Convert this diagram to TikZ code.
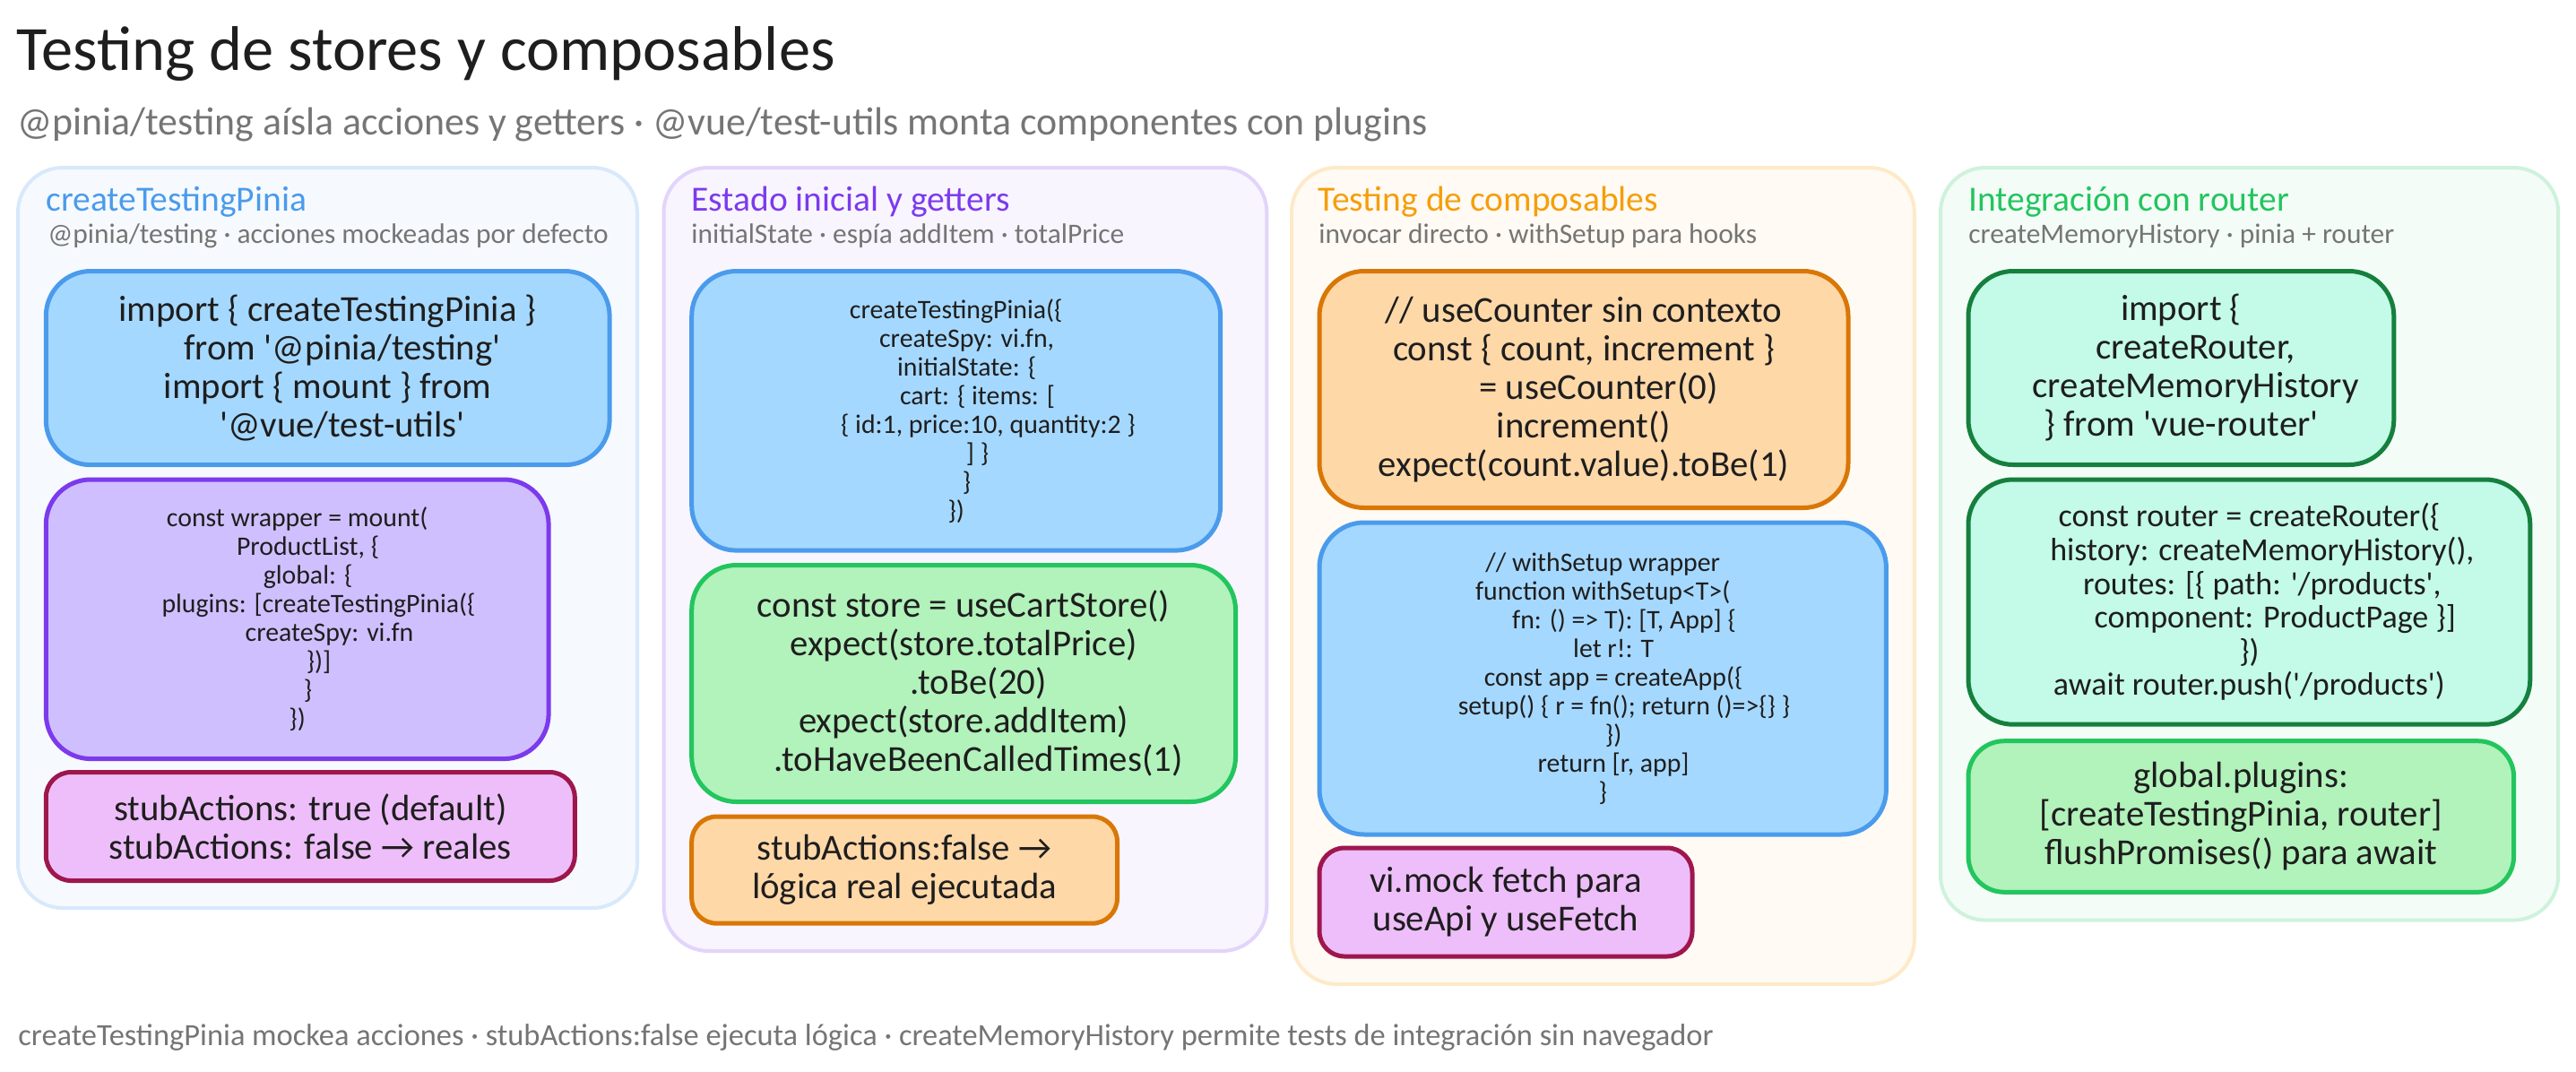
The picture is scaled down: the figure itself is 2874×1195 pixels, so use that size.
\documentclass[tikz,border=0pt]{standalone}
\usepackage{fontspec}
\setmainfont{Carlito}
\newcommand{\lvl}[1]{\hspace*{\dimexpr#1em*8/10\relax}}
\newcommand{\sq}{\textquotesingle}
\definecolor{inkcolor}{HTML}{1E1E1E}
\definecolor{mutedcolor}{HTML}{757575}
\definecolor{blueline}{HTML}{4A9BEC}
\definecolor{bluefill}{HTML}{A5D8FF}
\definecolor{purpleline}{HTML}{7C3AED}
\definecolor{purplefill}{HTML}{D0BFFF}
\definecolor{pinkline}{HTML}{9D174D}
\definecolor{pinkfill}{HTML}{EEBEFA}
\definecolor{greenline}{HTML}{22C55E}
\definecolor{greenfill}{HTML}{B2F2BB}
\definecolor{orangeline}{HTML}{D97706}
\definecolor{orangefill}{HTML}{FFD8A8}
\definecolor{tealline}{HTML}{15803D}
\definecolor{tealfill}{HTML}{C3FAE8}
\definecolor{amberline}{HTML}{F59E0B}
\tikzset{
	bigtext/.style = {font = \fontsize{20.4}{21.5}\selectfont},
	midtext/.style = {font = \fontsize{18}{18.8}\selectfont},
	smalltext/.style = {font = \fontsize{14.9}{16}\selectfont},
	textrow/.style = {anchor = west, inner sep = 0pt},
	panel/.style = {anchor = north west, draw = #1!22!white, fill = #1!5!white, line width = 2pt, rounded corners = 25pt, inner sep = 0pt, outer sep = 0pt},
	card/.style = {anchor = north west, draw = #1line, fill = #1fill, line width = 2.5pt, rounded corners = 25pt, inner sep = 0pt, outer sep = 0pt, align = center, text = inkcolor},
	shortcard/.style = {card = #1, rounded corners = 14pt},
	paneltitle/.style = {textrow, font = \fontsize{19.75}{22}\selectfont, text = #1},
	panelnote/.style = {textrow, font = \fontsize{15.7}{18}\selectfont, text = mutedcolor}
}
\begin{document}
\begin{tikzpicture}[x = 0.5pt, y = -0.5pt]
	\useasboundingbox (0, 0) rectangle (2874, 1195);
	\node[textrow, font = \fontsize{35.2}{40}\selectfont, text = inkcolor] (title) at (18, 60) {Testing de stores y composables};
	\node[textrow, font = \fontsize{21.9}{26}\selectfont, text = mutedcolor] (subtitle) at (19, 139) {@pinia/testing aísla acciones y getters · @vue/test-utils monta componentes con plugins};
%%%%%%%%%%%
	\node[panel = blueline, minimum width = 345.5pt, minimum height = 413pt] (pinia) at (20, 187) {};
	\node[paneltitle = blueline] (piniatitle) at (51, 225) {createTestingPinia};
	\node[panelnote] (pinianote) at (53, 263) {@pinia/testing · acciones mockeadas por defecto};
	\node[card = blue, bigtext, minimum width = 314.4pt, minimum height = 108.1pt] (piniaimport) at (51.3, 302.5) {import \{ createTestingPinia \}\\ \lvl{1}from \sq @pinia/testing\sq\\ import \{ mount \} from\\ \lvl{1}\sq @vue/test-utils\sq};
	\node[card = purple, smalltext, minimum width = 280.4pt, minimum height = 155.8pt] (piniamount) at (51.3, 535) {const wrapper = mount(\\ \lvl{1}ProductList, \{\\ \lvl{1}global: \{\\ \lvl{2}plugins: [createTestingPinia(\{\\ \lvl{3}createSpy: vi.fn\\ \lvl{2}\})]\\ \lvl{1}\}\\ \})};
	\node[shortcard = pink, bigtext, minimum width = 295pt, minimum height = 60.5pt] (piniastub) at (51.3, 861.5) {stubActions: true (default)\\ stubActions: false → reales};
%%%%%%%%%%%
	\node[panel = purpleline, minimum width = 336.4pt, minimum height = 437pt] (getters) at (740.5, 187) {};
	\node[paneltitle = purpleline] (getterstitle) at (771, 225) {Estado inicial y getters};
	\node[panelnote] (gettersnote) at (771, 263) {initialState · espía addItem · totalPrice};
	\node[card = blue, smalltext, minimum width = 295pt, minimum height = 155.8pt] (gettersinit) at (771.7, 302.5) {createTestingPinia(\{\\ \lvl{1}createSpy: vi.fn,\\ \lvl{1}initialState: \{\\ \lvl{2}cart: \{ items: [\\ \lvl{3}\{ id:1, price:10, quantity:2 \}\\ \lvl{2}] \}\\ \lvl{1}\}\\ \})};
	\node[card = green, bigtext, minimum width = 303.4pt, minimum height = 132pt] (gettersstore) at (771.7, 630.5) {const store = useCartStore()\\ expect(store.totalPrice)\\ \lvl{1}.toBe(20)\\ expect(store.addItem)\\ \lvl{1}.toHaveBeenCalledTimes(1)};
	\node[shortcard = orange, bigtext, minimum width = 237.4pt, minimum height = 59.6pt] (gettersreal) at (771.7, 911) {stubActions:false →\\ lógica real ejecutada};
%%%%%%%%%%%
	\node[panel = amberline, minimum width = 347.4pt, minimum height = 455.5pt] (composables) at (1441, 187) {};
	\node[paneltitle = amberline] (composablestitle) at (1470, 225) {Testing de composables};
	\node[panelnote] (composablesnote) at (1471, 263) {invocar directo · withSetup para hooks};
	\node[card = orange, bigtext, minimum width = 295pt, minimum height = 132pt] (composablescounter) at (1472, 302.5) {// useCounter sin contexto\\ const \{ count, increment \}\\ \lvl{1}= useCounter(0)\\ increment()\\ expect(count.value).toBe(1)};
	\node[card = blue, smalltext, minimum width = 316.2pt, minimum height = 174pt] (composableswrapper) at (1472, 583) {// withSetup wrapper\\ function withSetup<T>(\\ \lvl{2}fn: () => T): [T, App] \{\\ \lvl{1}let r!: T\\ \lvl{1}const app = createApp(\{\\ \lvl{2}setup() \{ r = fn(); return ()=>\{\} \}\\ \lvl{1}\})\\ \lvl{1}return [r, app]\\ \}};
	\node[shortcard = pink, bigtext, minimum width = 208pt, minimum height = 60.5pt] (composablesmock) at (1472, 946) {vi.mock fetch para\\ useApi y useFetch};
%%%%%%%%%%%
	\node[panel = greenline, minimum width = 344.6pt, minimum height = 419.8pt] (router) at (2165, 187) {};
	\node[paneltitle = greenline] (routertitle) at (2196, 225) {Integración con router};
	\node[panelnote] (routernote) at (2196, 263) {createMemoryHistory · pinia + router};
	\node[card = teal, bigtext, minimum width = 237.4pt, minimum height = 108pt] (routerimport) at (2196, 302.5) {import \{\\ \lvl{1}createRouter,\\ \lvl{1}createMemoryHistory\\ \} from \sq vue-router\sq};
	\node[card = teal, midtext, minimum width = 313.4pt, minimum height = 136.6pt] (routerconst) at (2196, 535) {const router = createRouter(\{\\ \lvl{1}history: createMemoryHistory(),\\ \lvl{1}routes: [\{ path: \sq/products\sq,\\ \lvl{2}component: ProductPage \}]\\ \})\\ await router.push(\sq/products\sq)};
	\node[card = green, rounded corners = 20pt, bigtext, minimum width = 304.3pt, minimum height = 84.3pt] (routerplugins) at (2196, 826.7) {global.plugins:\\ {[}createTestingPinia, router]\\ flushPromises() para await};
%%%%%%%%%%%
	\node[textrow, font = \fontsize{17.2}{20}\selectfont, text = mutedcolor] (footer) at (20, 1157) {createTestingPinia mockea acciones · stubActions:false ejecuta lógica · createMemoryHistory permite tests de integración sin navegador};
\end{tikzpicture}
\end{document}
